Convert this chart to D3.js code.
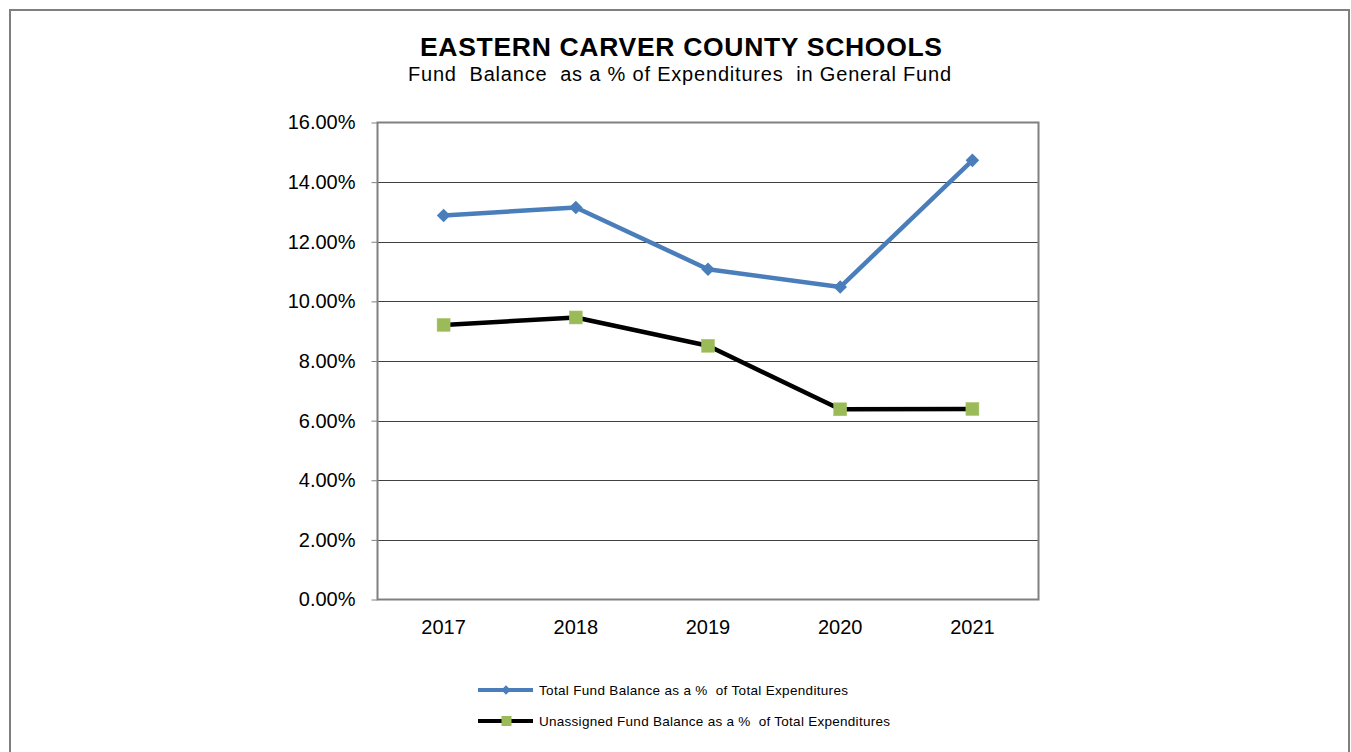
<!DOCTYPE html>
<html>
<head>
<meta charset="utf-8">
<script src="https://cdn.jsdelivr.net/npm/d3@7"></script>
<style>
  body { margin: 0; background: #fff; }
  svg { display: block; font-family: "Liberation Sans", Arial, sans-serif; }
  text { white-space: pre; }
</style>
</head>
<body>
<svg id="chart" width="1351" height="752"></svg>
<script>
const years = ["2017", "2018", "2019", "2020", "2021"];
const totalPct = [12.88, 13.15, 11.08, 10.48, 14.73];
const unassignedPct = [9.21, 9.46, 8.51, 6.38, 6.39];
const yTicks = [0, 2, 4, 6, 8, 10, 12, 14, 16];
const seriesNames = [
  "Total Fund Balance as a %  of Total Expenditures",
  "Unassigned Fund Balance as a %  of Total Expenditures"
];
const titleText = "EASTERN CARVER COUNTY SCHOOLS";
const subtitleText = "Fund  Balance  as a % of Expenditures  in General Fund";

const svg = d3.select("#chart");
const plot = { left: 377.5, right: 1038.5, top: 122.5, bottom: 599.5 };

// outer frame
svg.append("rect").attr("x", 10).attr("y", 10).attr("width", 1339).attr("height", 760)
  .attr("fill", "none").attr("stroke", "#7f7f7f").attr("stroke-width", 2);

// title
svg.append("text").attr("x", 420).attr("y", 56)
  .attr("font-size", 26.5).attr("font-weight", "bold").attr("fill", "#000")
  .attr("textLength", 522).attr("lengthAdjust", "spacing").text(titleText);
svg.append("text").attr("x", 408).attr("y", 81)
  .attr("font-size", 20).attr("fill", "#000")
  .attr("textLength", 543).attr("lengthAdjust", "spacing").text(subtitleText);

const x = d3.scaleBand().domain(years).range([plot.left, plot.right]);
const y = d3.scaleLinear().domain([0, 16]).range([plot.bottom, plot.top]);

// gridlines
svg.append("g").selectAll("line").data(yTicks.filter(d => d > 0 && d < 16)).join("line")
  .attr("x1", plot.left).attr("x2", plot.right)
  .attr("y1", d => Math.round(y(d)) + 0.5).attr("y2", d => Math.round(y(d)) + 0.5)
  .attr("stroke", "#404040").attr("stroke-width", 1);

// plot frame
svg.append("rect").attr("x", plot.left).attr("y", plot.top)
  .attr("width", plot.right - plot.left).attr("height", plot.bottom - plot.top)
  .attr("fill", "none").attr("stroke", "#808080").attr("stroke-width", 2);

// y axis
const yAxis = d3.axisLeft(y).tickValues(yTicks).tickSize(6).tickPadding(14)
  .tickFormat(d => d3.format(".2f")(d) + "%");
const ya = svg.append("g").attr("transform", `translate(${plot.left},0)`).call(yAxis);
ya.select(".domain").remove();
ya.selectAll(".tick line").attr("stroke", "#808080").attr("stroke-width", 1);
ya.selectAll(".tick text").attr("font-size", 20).attr("fill", "#000")
  .attr("font-family", "'Liberation Sans', Arial, sans-serif").attr("dx", -2);

// x axis
const xAxis = d3.axisBottom(x).tickSize(0).tickPadding(20);
const xa = svg.append("g").attr("transform", `translate(0,${plot.bottom})`).call(xAxis);
xa.select(".domain").remove();
xa.selectAll(".tick text").attr("font-size", 20).attr("fill", "#000")
  .attr("font-family", "'Liberation Sans', Arial, sans-serif").attr("dy", "0.7em");

const cx = (d, i) => x(years[i]) + x.bandwidth() / 2;
const line = d3.line().x((d, i) => cx(d, i)).y(d => y(d));

// Total series
svg.append("path").datum(totalPct).attr("d", line)
  .attr("fill", "none").attr("stroke", "#4a7ebb").attr("stroke-width", 4.5)
  .attr("stroke-linejoin", "round");
svg.append("g").selectAll("path").data(totalPct).join("path")
  .attr("d", d3.symbol().type(d3.symbolSquare).size(92))
  .attr("transform", (d, i) => `translate(${cx(d, i)},${y(d)}) rotate(45)`)
  .attr("fill", "#4a7ebb");

// Unassigned series
svg.append("path").datum(unassignedPct).attr("d", line)
  .attr("fill", "none").attr("stroke", "#000").attr("stroke-width", 4.5)
  .attr("stroke-linejoin", "round");
svg.append("g").selectAll("rect").data(unassignedPct).join("rect")
  .attr("x", (d, i) => cx(d, i) - 6.5).attr("y", d => y(d) - 6.5)
  .attr("width", 13).attr("height", 13)
  .attr("fill", "#9bbb59").attr("stroke", "#a9c66a").attr("stroke-width", 0.5);

// legend
const legY = [690, 721];
const legW = [309, 351];
const leg = svg.append("g");
legY.forEach((ly, i) => {
  leg.append("line").attr("x1", 478).attr("x2", 533).attr("y1", ly).attr("y2", ly)
    .attr("stroke", i === 0 ? "#4a7ebb" : "#000").attr("stroke-width", 4);
  if (i === 0) {
    leg.append("path").attr("d", d3.symbol().type(d3.symbolSquare).size(44)())
      .attr("transform", `translate(506,${ly}) rotate(45)`).attr("fill", "#4a7ebb");
  } else {
    leg.append("rect").attr("x", 501.5).attr("y", ly - 5).attr("width", 10).attr("height", 10)
      .attr("fill", "#9bbb59");
  }
  leg.append("text").attr("x", 539).attr("y", ly + 5).attr("font-size", 13.5)
    .attr("fill", "#000").attr("textLength", legW[i]).attr("lengthAdjust", "spacing")
    .text(seriesNames[i]);
});
</script>
</body>
</html>
